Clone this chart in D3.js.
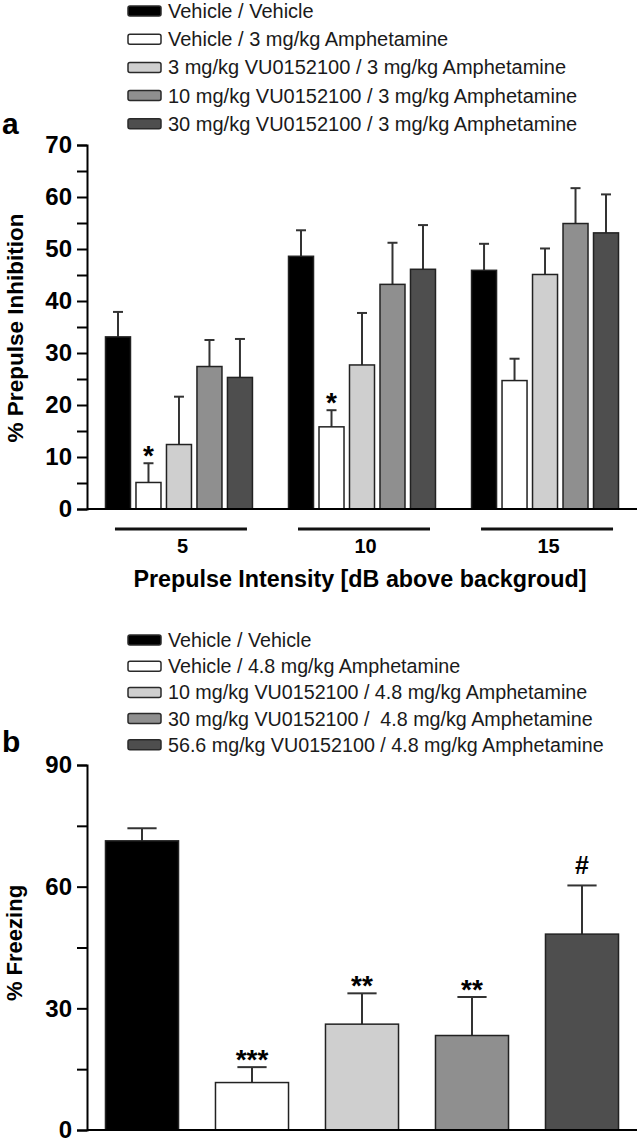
<!DOCTYPE html>
<html>
<head>
<meta charset="utf-8">
<script src="https://cdn.jsdelivr.net/npm/d3@7"></script>
<style>
  html, body { margin: 0; padding: 0; background: #fff; }
  svg { display: block; font-family: "Liberation Sans", Arial, sans-serif; }
</style>
</head>
<body>
<svg id="chart" width="641" height="1142"></svg>
<script>
// ---------- Panel a data ----------
const intensitiesA = ["5", "10", "15"];
const seriesA = [
  "Vehicle / Vehicle",
  "Vehicle / 3 mg/kg Amphetamine",
  "3 mg/kg VU0152100 / 3 mg/kg Amphetamine",
  "10 mg/kg VU0152100 / 3 mg/kg Amphetamine",
  "30 mg/kg VU0152100 / 3 mg/kg Amphetamine"
];
const meanA5  = [33.1, 5.1, 12.4, 27.4, 25.3];
const meanA10 = [48.6, 15.8, 27.7, 43.2, 46.1];
const meanA15 = [45.9, 24.7, 45.1, 54.9, 53.1];
const semA5   = [4.8, 3.7, 9.2, 5.1, 7.4];
const semA10  = [5.0, 3.2, 10.0, 8.0, 8.5];
const semA15  = [5.1, 4.2, 5.0, 6.8, 7.4];
const sigA5   = ["", "*", "", "", ""];
const sigA10  = ["", "*", "", "", ""];
const sigA15  = ["", "", "", "", ""];
const ticksA  = [0, 5, 10, 15, 20, 25, 30, 35, 40, 45, 50, 55, 60, 65, 70];

// ---------- Panel b data ----------
const seriesB = [
  "Vehicle / Vehicle",
  "Vehicle / 4.8 mg/kg Amphetamine",
  "10 mg/kg VU0152100 / 4.8 mg/kg Amphetamine",
  "30 mg/kg VU0152100 /  4.8 mg/kg Amphetamine",
  "56.6 mg/kg VU0152100 / 4.8 mg/kg Amphetamine"
];
const meanB = [71.3, 11.7, 26.1, 23.3, 48.3];
const semB  = [3.1, 3.8, 7.6, 9.5, 12.0];
const sigB  = ["", "***", "**", "**", "#"];
const ticksB = [0, 15, 30, 45, 60, 75, 90];

const fills = ["#000000", "#ffffff", "#cfcfcf", "#8f8f8f", "#4e4e4e"];

const svg = d3.select("#chart");
const FONT = '"Liberation Sans", Arial, sans-serif';

function legend(items, x0, y0, step, fs) {
  const g = svg.append("g");
  items.forEach((t, i) => {
    const by = y0 + i * step;
    g.append("rect").attr("x", x0).attr("y", by - 12).attr("width", 33).attr("height", 10)
      .attr("rx", 2).attr("fill", fills[i]).attr("stroke", "#2a2a2a").attr("stroke-width", 1.5);
    g.append("text").attr("x", x0 + 40).attr("y", by).attr("font-size", fs)
      .attr("fill", "#1a1a1a").style("white-space", "pre").text(t);
  });
}

function yAxis(y, ticks, labelEvery, xPos) {
  const ax = d3.axisLeft(y).tickValues(ticks)
    .tickFormat(d => (d % labelEvery === 0 ? d : ""))
    .tickSize(10).tickPadding(5);
  const g = svg.append("g").attr("transform", `translate(${xPos},0)`).call(ax)
    .attr("font-family", FONT).attr("font-size", 24);
  g.select(".domain").attr("stroke", "#000").attr("stroke-width", 2);
  g.selectAll(".tick line").attr("stroke", "#000").attr("stroke-width", 2);
  g.selectAll(".tick text").attr("font-size", 24).attr("font-weight", "bold")
    .attr("fill", "#000");
  return g;
}

function bar(g, x, w, y, v, e, s, fill) {
  const top = y(v), cap = y(v + e), cx = x + w / 2;
  g.append("line").attr("x1", cx).attr("x2", cx).attr("y1", top).attr("y2", cap)
    .attr("stroke", "#333").attr("stroke-width", 2);
  g.append("line").attr("x1", cx - w * 0.2).attr("x2", cx + w * 0.2).attr("y1", cap).attr("y2", cap)
    .attr("stroke", "#333").attr("stroke-width", 2);
  g.append("rect").attr("x", x).attr("y", top).attr("width", w).attr("height", y(0) - top)
    .attr("fill", fill).attr("stroke", "#222").attr("stroke-width", 1.5);
  if (s) {
    g.append("text").attr("x", cx).attr("y", cap + (s === "#" ? -11 : 2))
      .attr("text-anchor", "middle").attr("font-weight", "bold")
      .attr("font-size", s === "#" ? 25 : 28).attr("fill", "#000").text(s);
  }
}

// ================= Panel a =================
legend(seriesA, 128, 18, 28.2, 20);
svg.append("text").attr("x", 2).attr("y", 134).attr("font-size", 30).attr("font-weight", "bold").text("a");

const yA = d3.scaleLinear().domain([0, 70]).range([509, 145]);
const xA0 = d3.scaleBand().domain(intensitiesA).range([87, 637]).paddingInner(0.197).paddingOuter(0.101);
const xA1 = d3.scaleBand().domain(d3.range(seriesA.length)).range([0, xA0.bandwidth()]).paddingInner(0.18);

const meansA = [meanA5, meanA10, meanA15];
const semsA = [semA5, semA10, semA15];
const sigsA = [sigA5, sigA10, sigA15];

const gA = svg.append("g");
intensitiesA.forEach((grp, gi) => {
  seriesA.forEach((s, si) => {
    bar(gA, xA0(grp) + xA1(si), xA1.bandwidth(), yA, meansA[gi][si], semsA[gi][si], sigsA[gi][si], fills[si]);
  });
  const c = xA0(grp) + xA0.bandwidth() / 2;
  svg.append("line").attr("x1", c + 2 - 66).attr("x2", c + 2 + 66).attr("y1", 529).attr("y2", 529)
    .attr("stroke", "#111").attr("stroke-width", 3);
  svg.append("text").attr("x", c + 3.5).attr("y", 553).attr("text-anchor", "middle")
    .attr("font-size", 20).attr("font-weight", "bold").text(grp);
});
yAxis(yA, ticksA, 10, 87);
svg.append("line").attr("x1", 87).attr("x2", 637).attr("y1", yA(0)).attr("y2", yA(0))
  .attr("stroke", "#000").attr("stroke-width", 2);

svg.append("text").attr("x", 360).attr("y", 587).attr("text-anchor", "middle")
  .attr("font-size", 23.3).attr("font-weight", "bold").text("Prepulse Intensity [dB above backgroud]");
svg.append("text").attr("transform", "translate(23,328) rotate(-90)").attr("text-anchor", "middle")
  .attr("font-size", 22.5).attr("font-weight", "bold").text("% Prepulse Inhibition");

// ================= Panel b =================
legend(seriesB, 128, 647, 26.2, 19.7);
svg.append("text").attr("x", 2).attr("y", 752).attr("font-size", 30).attr("font-weight", "bold").text("b");

const yB = d3.scaleLinear().domain([0, 90]).range([1130, 765]);
const xB = d3.scaleBand().domain(d3.range(seriesB.length)).range([87, 637]).paddingInner(0.336).paddingOuter(0.168);
const gB = svg.append("g");
seriesB.forEach((s, i) => {
  bar(gB, xB(i), xB.bandwidth(), yB, meanB[i], semB[i], sigB[i], fills[i]);
});
yAxis(yB, ticksB, 30, 87);
svg.append("line").attr("x1", 87).attr("x2", 637).attr("y1", yB(0)).attr("y2", yB(0))
  .attr("stroke", "#000").attr("stroke-width", 2);
svg.append("text").attr("transform", "translate(22,943) rotate(-90)").attr("text-anchor", "middle")
  .attr("font-size", 22).attr("font-weight", "bold").text("% Freezing");
</script>
</body>
</html>
